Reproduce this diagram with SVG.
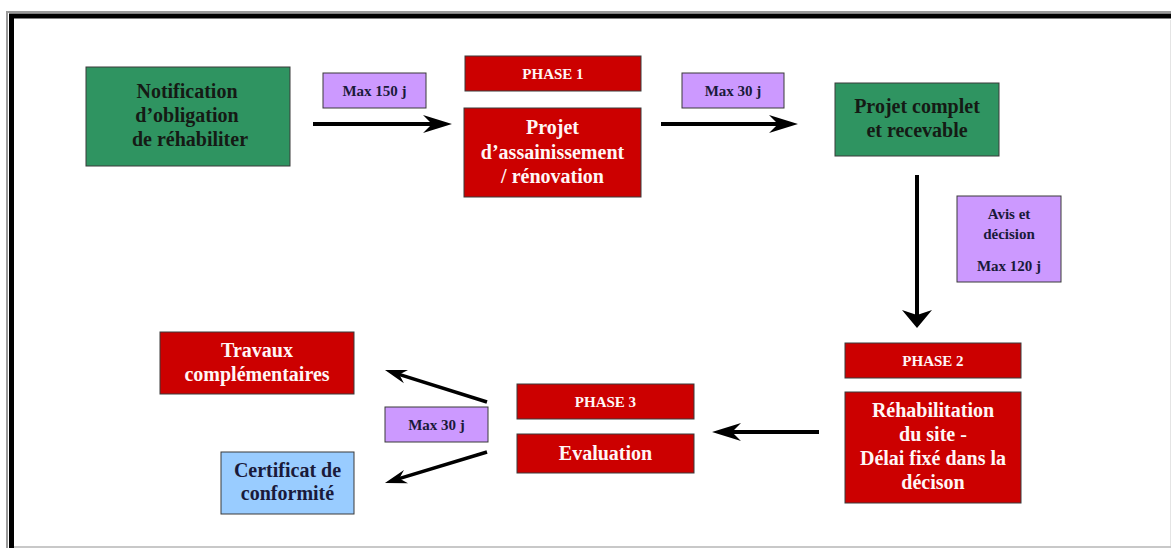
<svg xmlns="http://www.w3.org/2000/svg" width="1171" height="548" viewBox="0 0 1171 548">
<defs>
<style>
.box{stroke:#3a3a3a;stroke-width:1}
.green{fill:#2f9461}
.red{fill:#cc0000}
.purple{fill:#cc99ff}
.blue{fill:#99ccff}
.t{font-family:"Liberation Serif","Times New Roman",serif;font-weight:bold;text-anchor:middle}
.big{font-size:20px}
.small{font-size:15px}
.dark{fill:#151a15}
.white{fill:#fff6f6}
.navy{fill:#1a1a3a}
.conn{stroke:#000;fill:none}
</style>
<marker id="ah" markerUnits="userSpaceOnUse" markerWidth="30" markerHeight="20" viewBox="0 -10 30 20" refX="12" refY="0" orient="auto">
<path d="M0,-9 L29,0 L0,9 L9,0 Z" fill="#000"/>
</marker>
<marker id="av" markerUnits="userSpaceOnUse" markerWidth="20" markerHeight="32" viewBox="0 -16 20 32" refX="7" refY="0" orient="auto">
<path d="M0,-15 L18,0 L0,15 L5,0 Z" fill="#000"/>
</marker>
<marker id="ad" markerUnits="userSpaceOnUse" markerWidth="24" markerHeight="16" viewBox="0 -8 24 16" refX="9" refY="0" orient="auto">
<path d="M0,-7 L22,0 L0,7 L7,0 Z" fill="#000"/>
</marker>
</defs>
<rect x="0" y="0" width="1171" height="548" fill="#fff"/>
<g id="frame">
<path d="M7 548 V12 H1171" fill="none" stroke="#9a9a9a" stroke-width="2"/>
<path d="M11.5 548 V16 H1171" fill="none" stroke="#000" stroke-width="5"/>
<path d="M1170.5 20 V548" fill="none" stroke="#e4e4e4" stroke-width="1"/>
<path d="M14 547 H1171" fill="none" stroke="#c8c8c8" stroke-width="2"/>
</g>
<g id="connectors">
<line class="conn" x1="313" y1="124" x2="435" y2="124" stroke-width="4" marker-end="url(#ah)"/>
<line class="conn" x1="661" y1="124" x2="781" y2="124" stroke-width="4" marker-end="url(#ah)"/>
<line class="conn" x1="917" y1="175" x2="917" y2="317" stroke-width="4" marker-end="url(#av)"/>
<line class="conn" x1="819" y1="432" x2="729" y2="432" stroke-width="4" marker-end="url(#ah)"/>
<line class="conn" x1="487" y1="402" x2="397.4" y2="373.9" stroke-width="3.5" marker-end="url(#ad)"/>
<line class="conn" x1="487" y1="452" x2="397.4" y2="479.2" stroke-width="3.5" marker-end="url(#ad)"/>
</g>
<g id="notification">
<rect class="box green" x="86" y="67" width="204" height="99"/>
<text class="t big dark" x="187" y="98">Notification</text>
<text class="t big dark" x="187" y="122">d’obligation</text>
<text class="t big dark" x="190" y="146">de réhabiliter</text>
</g>
<g id="max150">
<rect class="box purple" x="323" y="73" width="103" height="35"/>
<text class="t small navy" x="374.5" y="96">Max 150  j</text>
</g>
<g id="phase1">
<rect class="box red" x="465" y="56" width="176" height="35"/>
<text class="t small white" x="553" y="79">PHASE 1</text>
</g>
<g id="projet">
<rect class="box red" x="464" y="108" width="177" height="89"/>
<text class="t big white" x="552.5" y="134">Projet</text>
<text class="t big white" x="552.5" y="159">d’assainissement</text>
<text class="t big white" x="552.5" y="183">/ rénovation</text>
</g>
<g id="max30a">
<rect class="box purple" x="682" y="73" width="102" height="35"/>
<text class="t small navy" x="733" y="96">Max 30  j</text>
</g>
<g id="projet-complet">
<rect class="box green" x="835" y="83" width="164" height="73"/>
<text class="t big dark" x="917" y="113">Projet complet</text>
<text class="t big dark" x="917" y="137">et recevable</text>
</g>
<g id="avis">
<rect class="box purple" x="957" y="196" width="104" height="86"/>
<text class="t small navy" x="1009" y="219">Avis et</text>
<text class="t small navy" x="1009" y="239">décision</text>
<text class="t small navy" x="1009" y="271">Max 120  j</text>
</g>
<g id="phase2">
<rect class="box red" x="845" y="343" width="176" height="35"/>
<text class="t small white" x="933" y="366">PHASE 2</text>
</g>
<g id="rehabilitation">
<rect class="box red" x="845" y="392" width="176" height="111"/>
<text class="t big white" x="933" y="417">Réhabilitation</text>
<text class="t big white" x="933" y="441">du site -</text>
<text class="t big white" x="933" y="465">Délai fixé dans la</text>
<text class="t big white" x="933" y="489">décison</text>
</g>
<g id="phase3">
<rect class="box red" x="517" y="384" width="177" height="35"/>
<text class="t small white" x="605.5" y="407">PHASE 3</text>
</g>
<g id="evaluation">
<rect class="box red" x="517" y="434" width="177" height="39"/>
<text class="t big white" x="605.5" y="460">Evaluation</text>
</g>
<g id="travaux">
<rect class="box red" x="160" y="332" width="194" height="62"/>
<text class="t big white" x="257" y="357">Travaux</text>
<text class="t big white" x="257" y="381">complémentaires</text>
</g>
<g id="max30b">
<rect class="box purple" x="385" y="407" width="103" height="35"/>
<text class="t small navy" x="436.5" y="430">Max 30  j</text>
</g>
<g id="certificat">
<rect class="box blue" x="221" y="452" width="133" height="62"/>
<text class="t big navy" x="287.5" y="477">Certificat de</text>
<text class="t big navy" x="287.5" y="500">conformité</text>
</g>
</svg>
